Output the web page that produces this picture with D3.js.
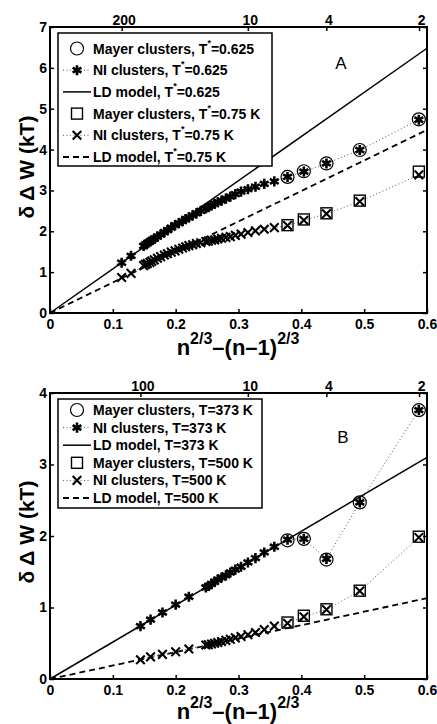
<!DOCTYPE html>
<html lang="en">
<head>
<meta charset="UTF-8">
<title>Cluster work vs. surface term</title>
<script src="https://d3js.org/d3.v7.min.js"></script>
<style>
  body { margin: 0; background: #fff; }
  svg { display: block; font-family: "Liberation Sans", Arial, sans-serif; }
  .legend-text { font-size: 14px; font-weight: bold; }
  .axis-title { font-weight: bold; }
</style>
</head>
<body>
<svg id="chart" width="437" height="724"></svg>
<script>
const xLeft = 50, xRight = 427;

const xTicks = [0, 0.1, 0.2, 0.3, 0.4, 0.5, 0.6];
const yTicksA = [0, 1, 2, 3, 4, 5, 6, 7];
const yTicksB = [0, 1, 2, 3, 4];
const nTicksA = [200, 10, 4, 2];
const nTicksB = [100, 10, 4, 2];

// ---- panel A (reduced temperature) ----
const xNI_A = [0.114, 0.129, 0.149, 0.152, 0.155, 0.159, 0.162, 0.166, 0.171, 0.176,
               0.182, 0.187, 0.193, 0.199, 0.205, 0.211, 0.216, 0.221, 0.227, 0.233,
               0.240, 0.248, 0.252, 0.257, 0.262, 0.267, 0.273, 0.280, 0.287, 0.295,
               0.304, 0.315, 0.327, 0.341, 0.357, 0.378, 0.404, 0.440, 0.493, 0.587];
const yNI_A625 = [1.23, 1.40, 1.64, 1.68, 1.71, 1.75, 1.78, 1.82, 1.87, 1.92,
                  1.98, 2.03, 2.09, 2.15, 2.20, 2.25, 2.30, 2.34, 2.39, 2.44,
                  2.50, 2.56, 2.59, 2.63, 2.67, 2.71, 2.75, 2.80, 2.85, 2.91,
                  2.97, 3.03, 3.09, 3.16, 3.22, 3.33, 3.46, 3.66, 3.99, 4.73];
const yNI_A75 = [0.87, 0.97, 1.16, 1.19, 1.21, 1.24, 1.27, 1.30, 1.34, 1.38,
                 1.42, 1.45, 1.49, 1.52, 1.56, 1.59, 1.62, 1.65, 1.67, 1.70,
                 1.72, 1.75, 1.76, 1.78, 1.79, 1.81, 1.83, 1.85, 1.87, 1.90,
                 1.93, 1.97, 2.01, 2.05, 2.09, 2.14, 2.27, 2.43, 2.73, 3.38];
const xMayer = [0.378, 0.404, 0.440, 0.493, 0.587];
const yMayer_A625 = [3.33, 3.47, 3.66, 3.99, 4.74];
const yMayer_A75 = [2.15, 2.29, 2.44, 2.75, 3.46];
const xLD = [0, 0.6];
const yLD_A625 = [0, 6.48];
const yLD_A75 = [0, 4.48];
const legendA = ["Mayer clusters, T*=0.625", "NI clusters, T*=0.625", "LD model, T*=0.625",
                 "Mayer clusters, T*=0.75 K", "NI clusters, T*=0.75 K", "LD model, T*=0.75 K"];

// ---- panel B (water, kelvin) ----
const xNI_B = [0.144, 0.160, 0.179, 0.200, 0.221, 0.248, 0.252, 0.257, 0.262, 0.267,
               0.273, 0.280, 0.287, 0.295, 0.304, 0.315, 0.327, 0.341, 0.357, 0.378,
               0.404, 0.440, 0.493, 0.587];
const yNI_B373 = [0.74, 0.83, 0.93, 1.04, 1.15, 1.28, 1.30, 1.33, 1.36, 1.39,
                  1.42, 1.45, 1.49, 1.53, 1.57, 1.63, 1.69, 1.77, 1.85, 1.95,
                  1.96, 1.68, 2.47, 3.76];
const yNI_B500 = [0.27, 0.31, 0.345, 0.38, 0.42, 0.475, 0.48, 0.49, 0.50, 0.51,
                  0.525, 0.54, 0.555, 0.575, 0.595, 0.62, 0.65, 0.69, 0.74, 0.78,
                  0.87, 0.97, 1.23, 1.98];
const yMayer_B373 = [1.94, 1.96, 1.67, 2.47, 3.76];
const yMayer_B500 = [0.79, 0.885, 0.975, 1.235, 1.99];
const yLD_B373 = [0, 3.10];
const yLD_B500 = [0, 1.13];
const legendB = ["Mayer clusters, T=373 K", "NI clusters, T=373 K", "LD model, T=373 K",
                 "Mayer clusters, T=500 K", "NI clusters, T=500 K", "LD model, T=500 K"];

const svg = d3.select("#chart");
// top axis shows cluster size n at x = n^(2/3) - (n-1)^(2/3)
const nToX = n => Math.pow(n, 2 / 3) - Math.pow(n - 1, 2 / 3);
const pts = (xs, ys) => xs.map((v, i) => [v, ys[i]]);

const star = d3.symbol(d3.symbolAsterisk).size(72);
const cross = d3.symbol(d3.symbolTimes).size(50);
const starW = 2.6, crossW = 2.1;

function styleAxis(a) {
    a.select(".domain").remove();
    a.selectAll("line").attr("stroke", "#000").attr("stroke-width", 1.5);
    a.selectAll("text").attr("fill", "#000")
        .style("font-family", "'Liberation Sans', Arial, sans-serif")
        .style("font-size", "14px").style("font-weight", "bold");
}

function drawPanel(p) {
    const g = svg.append("g");
    const x = d3.scaleLinear().domain([0, 0.6]).range([xLeft, xRight]);
    const y = d3.scaleLinear().domain([0, p.yMax]).range([p.bottom, p.top]);
    const line = d3.line().x(d => x(d[0])).y(d => y(d[1]));

    // LD model lines
    g.append("path").datum(pts(xLD, p.ld1)).attr("d", line)
        .attr("fill", "none").attr("stroke", "#000").attr("stroke-width", 1.5);
    g.append("path").datum(pts(xLD, p.ld2)).attr("d", line)
        .attr("fill", "none").attr("stroke", "#000").attr("stroke-width", 1.8)
        .attr("stroke-dasharray", "6,4");

    // NI series dotted connectors
    [p.ni1, p.ni2].forEach(ys => {
        g.append("path").datum(pts(p.niX, ys)).attr("d", line)
            .attr("fill", "none").attr("stroke", "#555").attr("stroke-width", 1)
            .attr("stroke-dasharray", "1,2.5");
    });

    g.selectAll(null).data(pts(p.niX, p.ni1)).join("path")
        .attr("transform", d => `translate(${x(d[0])},${y(d[1])})`)
        .attr("d", star).attr("fill", "none").attr("stroke", "#000").attr("stroke-width", starW);
    g.selectAll(null).data(pts(p.niX, p.ni2)).join("path")
        .attr("transform", d => `translate(${x(d[0])},${y(d[1])})`)
        .attr("d", cross).attr("fill", "none").attr("stroke", "#000").attr("stroke-width", crossW);

    // Mayer clusters
    g.selectAll(null).data(pts(xMayer, p.mayer1)).join("circle")
        .attr("cx", d => x(d[0])).attr("cy", d => y(d[1])).attr("r", 6.5)
        .attr("fill", "none").attr("stroke", "#000").attr("stroke-width", 1.2);
    g.selectAll(null).data(pts(xMayer, p.mayer2)).join("rect")
        .attr("x", d => x(d[0]) - 5.5).attr("y", d => y(d[1]) - 5.5)
        .attr("width", 11).attr("height", 11)
        .attr("fill", "none").attr("stroke", "#000").attr("stroke-width", 1.4);

    // axes, ticks pointing inward
    g.append("g").attr("transform", `translate(0,${p.bottom})`)
        .call(d3.axisBottom(x).tickValues(xTicks).tickSize(-4).tickPadding(6).tickFormat(String))
        .call(styleAxis);
    g.append("g").attr("transform", `translate(${xLeft},0)`)
        .call(d3.axisLeft(y).tickValues(p.yTicks).tickSize(-4).tickPadding(3).tickFormat(String))
        .call(styleAxis);
    g.append("g").attr("transform", `translate(${xRight},0)`)
        .call(d3.axisRight(y).tickValues(p.yTicks).tickSize(-4).tickFormat(""))
        .call(styleAxis);
    g.append("g").attr("transform", `translate(0,${p.top})`)
        .call(d3.axisTop(x).tickValues(p.nTicks.map(nToX)).tickSize(-4).tickPadding(2)
            .tickFormat((d, i) => p.nTicks[i]))
        .call(styleAxis)
        .selectAll("text").attr("dx", 2);

    g.append("rect").attr("x", xLeft).attr("y", p.top)
        .attr("width", xRight - xLeft).attr("height", p.bottom - p.top)
        .attr("fill", "none").attr("stroke", "#000").attr("stroke-width", 2);

    // legend
    const lg = g.append("g");
    lg.append("rect").attr("x", 58).attr("y", p.legTop).attr("width", p.legW).attr("height", p.legH)
        .attr("fill", "#fff").attr("stroke", "#000").attr("stroke-width", 1.5);
    const kinds = ["circle", "star", "solid", "square", "cross", "dashed"];
    p.legend.forEach((label, i) => {
        const cy = p.legFirst + i * p.legStep;
        const k = kinds[i];
        if (k === "star" || k === "cross") {
            lg.append("line").attr("x1", 63).attr("x2", 91).attr("y1", cy).attr("y2", cy)
                .attr("stroke", "#555").attr("stroke-dasharray", "1,2.5");
            lg.append("path").attr("transform", `translate(77,${cy})`)
                .attr("d", k === "star" ? star : cross)
                .attr("fill", "none").attr("stroke", "#000").attr("stroke-width", k === "star" ? starW : crossW);
        } else if (k === "solid" || k === "dashed") {
            lg.append("line").attr("x1", 63).attr("x2", 91).attr("y1", cy).attr("y2", cy)
                .attr("stroke", "#000").attr("stroke-width", k === "solid" ? 1.5 : 1.8)
                .attr("stroke-dasharray", k === "dashed" ? "6,4" : null);
        } else if (k === "circle") {
            lg.append("circle").attr("cx", 77).attr("cy", cy).attr("r", 6.5)
                .attr("fill", "none").attr("stroke", "#000").attr("stroke-width", 1.2);
        } else {
            lg.append("rect").attr("x", 71.5).attr("y", cy - 5.5).attr("width", 11).attr("height", 11)
                .attr("fill", "none").attr("stroke", "#000").attr("stroke-width", 1.4);
        }
        const t = lg.append("text").attr("class", "legend-text").attr("x", 93).attr("y", cy + 5);
        const parts = label.split("*");
        t.append("tspan").text(parts[0]);
        if (parts.length > 1) {
            // small star raised after the T
            t.append("tspan").attr("dy", -8).style("font-size", "9px").text("*");
            t.append("tspan").attr("dy", 8).text(parts[1]);
        }
    });

    // panel letter
    g.append("text").attr("x", p.letterX).attr("y", p.letterY).attr("text-anchor", "middle")
        .style("font-size", "17px").text(p.letter);

    // axis titles
    g.append("text").attr("class", "axis-title")
        .attr("transform", `translate(34,${p.yLabelY}) rotate(-90)`)
        .attr("text-anchor", "middle").style("font-size", "21px")
        .text("\u03b4 \u0394 W (kT)");
    const xt = g.append("text").attr("class", "axis-title")
        .attr("x", 238).attr("y", p.xLabelY).attr("text-anchor", "middle").style("font-size", "22px");
    xt.append("tspan").text("n");
    xt.append("tspan").attr("dy", -11).style("font-size", "16px").text("2/3");
    xt.append("tspan").attr("dy", 11).text("\u2013(n\u20131)");
    xt.append("tspan").attr("dy", -11).style("font-size", "16px").text("2/3");
}

drawPanel({
    top: 27, bottom: 313, yMax: 7, yTicks: yTicksA, nTicks: nTicksA,
    niX: xNI_A, ni1: yNI_A625, ni2: yNI_A75, mayer1: yMayer_A625, mayer2: yMayer_A75,
    ld1: yLD_A625, ld2: yLD_A75, legend: legendA,
    legTop: 33, legW: 214, legH: 133, legFirst: 48.5, legStep: 21.7,
    letter: "A", letterX: 341, letterY: 68.5, yLabelY: 167, xLabelY: 355
});

drawPanel({
    top: 393, bottom: 679, yMax: 4, yTicks: yTicksB, nTicks: nTicksB,
    niX: xNI_B, ni1: yNI_B373, ni2: yNI_B500, mayer1: yMayer_B373, mayer2: yMayer_B500,
    ld1: yLD_B373, ld2: yLD_B500, legend: legendB,
    legTop: 399, legW: 204, legH: 109, legFirst: 410, legStep: 17.6,
    letter: "B", letterX: 343, letterY: 443, yLabelY: 532, xLabelY: 719
});
</script>
</body>
</html>
